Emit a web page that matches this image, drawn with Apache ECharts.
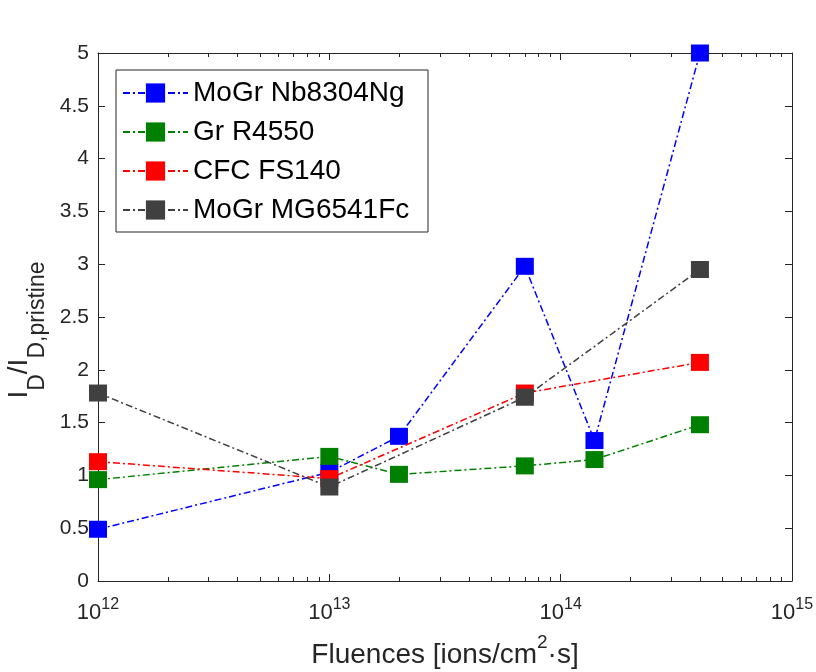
<!DOCTYPE html>
<html>
<head>
<meta charset="utf-8">
<script src="https://cdn.jsdelivr.net/npm/echarts@6/dist/echarts.min.js"></script>
<style>
html,body{margin:0;padding:0;background:#fff;}
#chart{width:816px;height:672px;}
</style>
</head>
<body>
<div id="chart"></div>
<script>
// ---- data ----
const fluences = [1e12, 1e13, 2e13, 7e13, 1.4e14, 4e14];
const seriesNames = ['MoGr Nb8304Ng', 'Gr R4550', 'CFC FS140', 'MoGr MG6541Fc'];
const mogrNbValues = [0.49, 1.03, 1.37, 2.98, 1.33, 5.0];
const grR4550Values = [0.96, 1.18, 1.01, 1.09, 1.15, 1.48];
const cfcFs140Values = [1.13, 0.97, null, 1.78, null, 2.07];
const mogrMgValues = [1.78, 0.89, null, 1.74, null, 2.95];
const xDecadeExponents = [12, 13, 14, 15];
const minorMultipliers = [2, 3, 4, 5, 6, 7, 8, 9];
const yMin = 0, yMax = 5, yInterval = 0.5;

// ---- styles ----
const seriesColors = ['#0000FF', '#008000', '#FF0000', '#404040'];
const FONT = "'Liberation Sans', Arial, Helvetica, sans-serif";
const AXIS_COLOR = '#262626';

const allValues = [mogrNbValues, grR4550Values, cfcFs140Values, mogrMgValues];

const minorTicks = [];
xDecadeExponents.slice(0, -1).forEach(function (e) {
  minorMultipliers.forEach(function (m) { minorTicks.push([m * Math.pow(10, e), 0]); });
});

const chart = echarts.init(document.getElementById('chart'));

const lineSeries = seriesNames.map(function (name, i) {
  return {
    name: name,
    type: 'line',
    xAxisIndex: 0,
    yAxisIndex: 0,
    data: fluences.map(function (f, j) { return [f, allValues[i][j]]; }),
    connectNulls: true,
    symbol: 'rect',
    symbolSize: [18, 17],
    clip: false,
    z: 3 + i,
    color: seriesColors[i],
    itemStyle: { color: seriesColors[i] },
    lineStyle: { color: seriesColors[i], width: 1.5, type: [7, 3, 2, 3] },
    emphasis: { disabled: true }
  };
});

const minorTickSeries = {
  type: 'custom',
  xAxisIndex: 0,
  yAxisIndex: 0,
  data: minorTicks,
  silent: true,
  clip: false,
  z: 2,
  renderItem: function (params, api) {
    const p = api.coord([api.value(0), 0]);
    const cs = params.coordSys;
    const x = Math.round(p[0]) + 0.5;
    const yb = cs.y + cs.height;
    const yt = cs.y;
    return {
      type: 'group',
      children: [
        { type: 'line', shape: { x1: x, y1: yb, x2: x, y2: yb - 4 }, style: { stroke: AXIS_COLOR, lineWidth: 1 } },
        { type: 'line', shape: { x1: x, y1: yt, x2: x, y2: yt + 4 }, style: { stroke: AXIS_COLOR, lineWidth: 1 } }
      ]
    };
  }
};

const xMin = Math.pow(10, xDecadeExponents[0]);
const xMax = Math.pow(10, xDecadeExponents[xDecadeExponents.length - 1]);

const option = {
  animation: false,
  backgroundColor: '#ffffff',
  textStyle: { fontFamily: FONT },
  grid: { left: 98, right: 24, top: 53, bottom: 91, containLabel: false, outerBoundsMode: 'none' },
  legend: {
    orient: 'vertical',
    left: 116,
    top: 70,
    padding: [8, 8, 7, 6],
    itemGap: 9,
    itemWidth: 65,
    itemHeight: 24,
    backgroundColor: '#ffffff',
    borderColor: AXIS_COLOR,
    borderWidth: 1,
    borderRadius: 0,
    data: seriesNames,
    textStyle: { fontFamily: FONT, fontSize: 28, color: '#000', lineHeight: 30, width: 227 }
  },
  xAxis: [
    {
      type: 'log', logBase: 10, min: xMin, max: xMax, splitNumber: 3,
      position: 'bottom',
      axisLine: { show: true, onZero: false, lineStyle: { color: AXIS_COLOR, width: 1 } },
      axisTick: { show: true, inside: true, length: 7, lineStyle: { color: AXIS_COLOR } },
      splitLine: { show: false },
      minorTick: { show: false },
      axisLabel: {
        margin: 16,
        color: AXIS_COLOR,
        formatter: function (v) {
          return '{b|10}{e|' + Math.round(Math.log10(v)) + '}{h|\u200b}';
        },
        rich: {
          b: { fontFamily: FONT, fontSize: 22, lineHeight: 22, verticalAlign: 'bottom', color: AXIS_COLOR },
          e: { fontFamily: FONT, fontSize: 16, lineHeight: 16, verticalAlign: 'top', color: AXIS_COLOR },
          h: { fontFamily: FONT, fontSize: 10, lineHeight: 27 }
        }
      },
      name: '{m|Fluences [ions/cm}{sup|2}{m|\u00b7s]}{h|\u200b}',
      nameLocation: 'middle',
      nameGap: 52,
      nameTextStyle: {
        rich: {
          m: { fontFamily: FONT, fontSize: 28, lineHeight: 28, verticalAlign: 'bottom', color: AXIS_COLOR },
          sup: { fontFamily: FONT, fontSize: 19, lineHeight: 19, verticalAlign: 'top', color: AXIS_COLOR },
          h: { fontFamily: FONT, fontSize: 10, lineHeight: 36 }
        }
      }
    },
    {
      type: 'log', logBase: 10, min: xMin, max: xMax, splitNumber: 3,
      position: 'top',
      axisLine: { show: true, onZero: false, lineStyle: { color: AXIS_COLOR, width: 1 } },
      axisTick: { show: true, inside: true, length: 7, lineStyle: { color: AXIS_COLOR } },
      axisLabel: { show: false },
      splitLine: { show: false }
    }
  ],
  yAxis: [
    {
      type: 'value', min: yMin, max: yMax, interval: yInterval,
      position: 'left',
      axisLine: { show: true, onZero: false, lineStyle: { color: AXIS_COLOR, width: 1 } },
      axisTick: { show: true, inside: true, length: 7, lineStyle: { color: AXIS_COLOR } },
      splitLine: { show: false },
      axisLabel: { margin: 9, color: AXIS_COLOR, fontFamily: FONT, fontSize: 21 },
      name: '{m|I}{s|D}{m|/I}{s|D,pristine}{h|\u200b}',
      nameLocation: 'middle',
      nameRotate: 90,
      nameGap: 47,
      nameTextStyle: {
        padding: [0, 26, 0, 0],
        rich: {
          m: { fontFamily: FONT, fontSize: 28, lineHeight: 28, verticalAlign: 'top', color: AXIS_COLOR },
          s: { fontFamily: FONT, fontSize: 23, lineHeight: 23, verticalAlign: 'bottom', color: AXIS_COLOR },
          h: { fontFamily: FONT, fontSize: 10, lineHeight: 44 }
        }
      }
    },
    {
      type: 'value', min: yMin, max: yMax, interval: yInterval,
      position: 'right',
      axisLine: { show: true, onZero: false, lineStyle: { color: AXIS_COLOR, width: 1 } },
      axisTick: { show: true, inside: true, length: 7, lineStyle: { color: AXIS_COLOR } },
      splitLine: { show: false },
      axisLabel: { show: false }
    }
  ],
  series: lineSeries.concat([minorTickSeries])
};

chart.setOption(option);
</script>
</body>
</html>
